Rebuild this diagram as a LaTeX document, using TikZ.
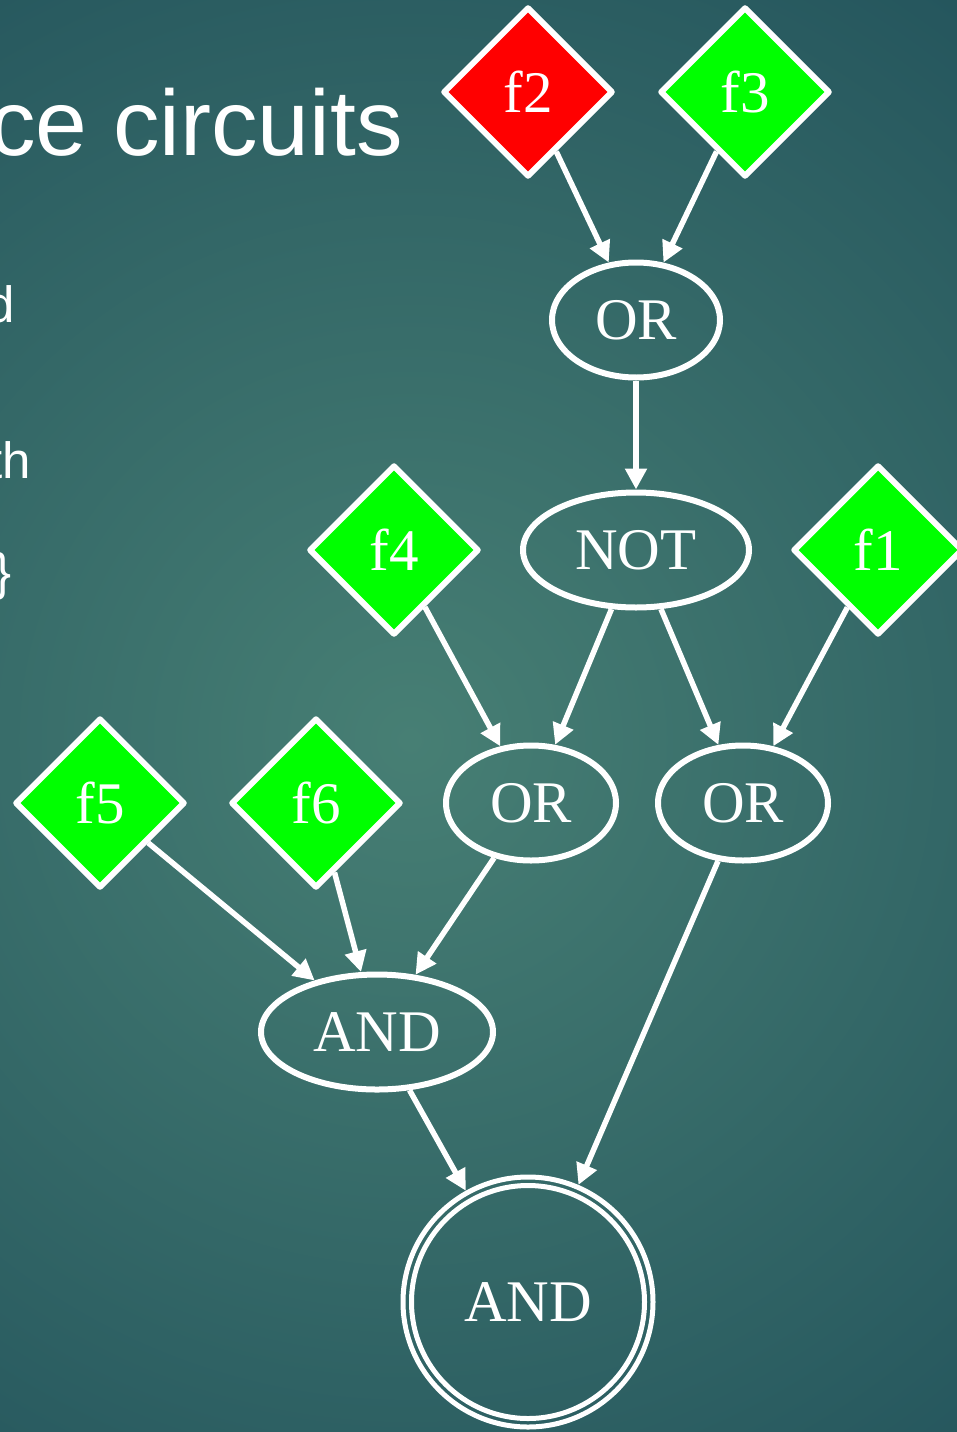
\documentclass[tikz,border=0pt]{standalone}
\usepackage{fontspec}
\setmainfont{Liberation Serif}
\newfontfamily\slidefont{Liberation Sans}
\usetikzlibrary{shapes.geometric,arrows.meta}

\definecolor{bginner}{HTML}{477F74}
\definecolor{bgouter}{HTML}{20505A}
\definecolor{valfalse}{HTML}{FF0000}
\definecolor{valtrue}{HTML}{00FF00}

\begin{document}
\begin{tikzpicture}[x=1pt,y=-1pt,
  every node/.style={text=white},
  label font/.style={font=\fontsize{59}{64}\selectfont},
  input/.style={diamond, aspect=1, draw=white, line width=6pt, line join=round,
    inner sep=0pt, minimum width=170pt, minimum height=170pt, fill=valtrue, label font},
  gate/.style={ellipse, draw=white, line width=6pt, inner sep=0pt,
    minimum height=115pt, label font},
  result/.style={circle, draw=white, line width=5pt, inner sep=0pt,
    minimum size=250pt, label font},
  wire/.style={draw=white, line width=5.5pt, -{Triangle[length=21pt,width=21pt]}},
  slidetext/.style={anchor=base east, inner sep=0pt, font=\slidefont\fontsize{51}{56}\selectfont},
]
\useasboundingbox (0,0) rectangle (957,1432);
\clip (0,0) rectangle (957,1432);

% slide background
\fill[bgouter] (0,0) rectangle (957,1432);
\shade[inner color=bginner, outer color=bgouter] (410,740) circle (1050);

% slide text behind the graph
\node[anchor=base east, inner sep=0pt, font=\slidefont\fontsize{93}{100}\selectfont] (title) at (403,155) {ce circuits};
\node[slidetext] (line1) at (15,322) {d};
\node[slidetext] (line2) at (31,478) {th};
\node[slidetext] (line3) at (12,589) {\}};

% inputs
\node[input, fill=valfalse] (f2) at (528,92) {f2};
\node[input] (f3) at (745,92) {f3};
\node[input] (f4) at (394,550) {f4};
\node[input] (f1) at (878,550) {f1};
\node[input] (f5) at (100,803) {f5};
\node[input] (f6) at (316,803) {f6};

% gates
\node[gate, minimum width=168pt] (or1) at (636,320) {OR};
\node[gate, minimum width=226pt] (not) at (636,550) {NOT};
\node[gate, minimum width=170pt] (or2) at (531,803) {OR};
\node[gate, minimum width=170pt] (or3) at (743,803) {OR};
\node[gate, minimum width=232pt] (and1) at (377,1032) {AND};
\node[result] (and2) at (528,1302) {AND};
\draw[white, line width=5pt] (and2.center) circle (116.5);

% wires
\draw[wire] (f2) -- (or1);
\draw[wire] (f3) -- (or1);
\draw[wire] (or1) -- (not);
\draw[wire] (f4) -- (or2);
\draw[wire] (not) -- (or2);
\draw[wire] (not) -- (or3);
\draw[wire] (f1) -- (or3);
\draw[wire] (f5) -- (and1);
\draw[wire] (f6) -- (and1);
\draw[wire] (or2) -- (and1);
\draw[wire] (and1) -- (and2);
\draw[wire] (or3) -- (and2);
\end{tikzpicture}
\end{document}
